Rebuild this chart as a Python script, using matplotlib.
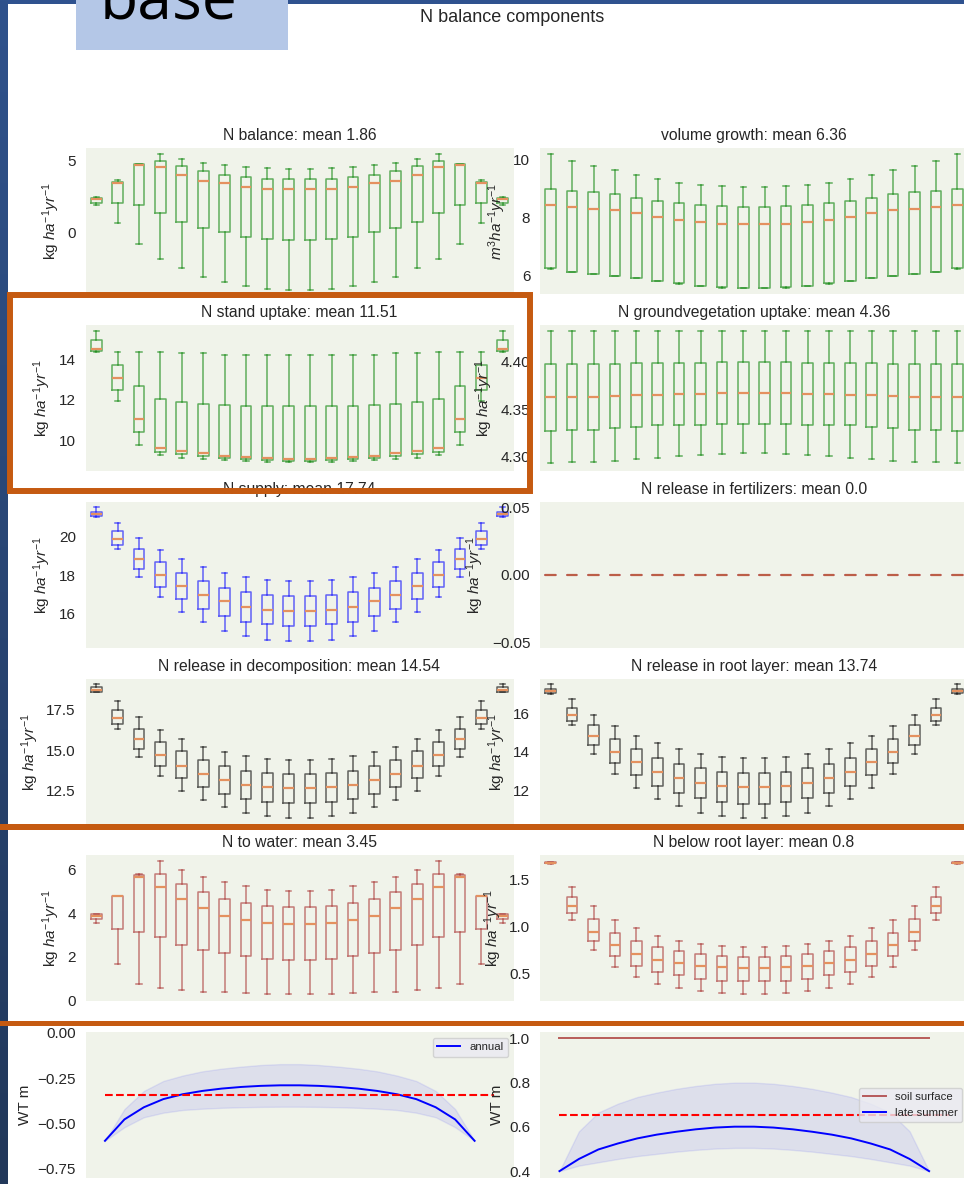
import numpy as np
import matplotlib.pyplot as plt
from matplotlib.patches import Rectangle

plt.rcParams['font.family'] = ['Liberation Sans', 'DejaVu Sans']
plt.rcParams['mathtext.fontset'] = 'custom'
plt.rcParams['mathtext.rm'] = 'Liberation Sans'
plt.rcParams['mathtext.it'] = 'Liberation Sans:italic'
plt.rcParams['mathtext.bf'] = 'Liberation Sans:bold'
plt.rcParams['text.color'] = '#262626'
plt.rcParams['axes.labelcolor'] = '#262626'
plt.rcParams['ytick.color'] = '#262626'

W, H = 964, 1184
BG = '#F0F3EA'
MED = '#E4915F'
ORANGE = '#C55A11'
KG = 'kg $ha^{-1}yr^{-1}$'

# box statistics per panel (20 boxes): upper whisker, q3, median, q1, lower whisker
bal_hi = [2.45, 3.68, 4.78, 5.42, 5.09, 4.82, 4.68, 4.51, 4.45, 4.38, 4.38, 4.45, 4.51, 4.68, 4.82, 5.09, 5.42, 4.78, 3.68, 2.45]
bal_q3 = [2.40, 3.54, 4.75, 4.95, 4.61, 4.24, 4.00, 3.84, 3.70, 3.70, 3.70, 3.70, 3.84, 4.00, 4.24, 4.61, 4.95, 4.75, 3.54, 2.40]
bal_med = [2.33, 3.46, 4.70, 4.51, 4.00, 3.61, 3.42, 3.19, 3.05, 3.05, 3.05, 3.05, 3.19, 3.42, 3.61, 4.00, 4.51, 4.70, 3.46, 2.33]
bal_q1 = [2.09, 2.09, 1.93, 1.35, 0.77, 0.31, 0.05, -0.28, -0.42, -0.49, -0.49, -0.42, -0.28, 0.05, 0.31, 0.77, 1.35, 1.93, 2.09, 2.09]
bal_lo = [1.93, 0.68, -0.79, -1.79, -2.44, -3.00, -3.35, -3.65, -3.84, -3.93, -3.93, -3.84, -3.65, -3.35, -3.00, -2.44, -1.79, -0.79, 0.68, 1.93]

vol_hi = [10.17, 9.94, 9.77, 9.61, 9.46, 9.32, 9.19, 9.11, 9.07, 9.04, 9.04, 9.07, 9.11, 9.19, 9.32, 9.46, 9.61, 9.77, 9.94, 10.17]
vol_q3 = [8.97, 8.90, 8.87, 8.79, 8.67, 8.57, 8.49, 8.42, 8.39, 8.34, 8.34, 8.39, 8.42, 8.49, 8.57, 8.67, 8.79, 8.87, 8.90, 8.97]
vol_med = [8.42, 8.35, 8.28, 8.25, 8.14, 8.02, 7.91, 7.84, 7.77, 7.77, 7.77, 7.77, 7.84, 7.91, 8.02, 8.14, 8.25, 8.28, 8.35, 8.42]
vol_q1 = [6.25, 6.14, 6.07, 6.00, 5.93, 5.82, 5.75, 5.66, 5.61, 5.59, 5.59, 5.61, 5.66, 5.75, 5.82, 5.93, 6.00, 6.07, 6.14, 6.25]
vol_lo = [6.23, 6.12, 6.05, 5.98, 5.91, 5.80, 5.73, 5.64, 5.59, 5.57, 5.57, 5.59, 5.64, 5.73, 5.80, 5.91, 5.98, 6.05, 6.12, 6.23]

upt_hi = [15.40, 14.34, 14.34, 14.34, 14.29, 14.29, 14.22, 14.22, 14.22, 14.22, 14.22, 14.22, 14.22, 14.22, 14.29, 14.29, 14.34, 14.34, 14.34, 15.40]
upt_q3 = [14.94, 13.70, 12.67, 12.01, 11.89, 11.80, 11.75, 11.69, 11.66, 11.66, 11.66, 11.66, 11.69, 11.75, 11.80, 11.89, 12.01, 12.67, 13.70, 14.94]
upt_med = [14.49, 13.04, 11.02, 9.63, 9.47, 9.37, 9.22, 9.17, 9.11, 9.05, 9.05, 9.11, 9.17, 9.22, 9.37, 9.47, 9.63, 11.02, 13.04, 14.49]
upt_q1 = [14.40, 12.46, 10.40, 9.40, 9.32, 9.21, 9.09, 9.04, 9.00, 8.98, 8.98, 9.00, 9.04, 9.09, 9.21, 9.32, 9.40, 10.40, 12.46, 14.40]
upt_lo = [14.34, 11.92, 9.75, 9.24, 9.12, 9.06, 9.02, 8.96, 8.91, 8.90, 8.90, 8.91, 8.96, 9.02, 9.06, 9.12, 9.24, 9.75, 11.92, 14.34]

gv_hi = [4.433, 4.433, 4.433, 4.433, 4.433, 4.433, 4.433, 4.433, 4.433, 4.433, 4.433, 4.433, 4.433, 4.433, 4.433, 4.433, 4.433, 4.433, 4.433, 4.433]
gv_q3 = [4.398, 4.398, 4.398, 4.398, 4.399, 4.399, 4.399, 4.399, 4.400, 4.400, 4.400, 4.400, 4.399, 4.399, 4.399, 4.399, 4.398, 4.398, 4.398, 4.398]
gv_med = [4.363, 4.363, 4.363, 4.364, 4.365, 4.365, 4.366, 4.366, 4.367, 4.367, 4.367, 4.367, 4.366, 4.366, 4.365, 4.365, 4.364, 4.363, 4.363, 4.363]
gv_q1 = [4.327, 4.328, 4.328, 4.330, 4.331, 4.333, 4.334, 4.334, 4.335, 4.335, 4.335, 4.335, 4.334, 4.334, 4.333, 4.331, 4.330, 4.328, 4.328, 4.327]
gv_lo = [4.293, 4.294, 4.294, 4.296, 4.298, 4.299, 4.301, 4.302, 4.303, 4.304, 4.304, 4.303, 4.302, 4.301, 4.299, 4.298, 4.296, 4.294, 4.294, 4.293]

sup_hi = [21.52, 20.72, 19.93, 19.32, 18.84, 18.41, 18.13, 17.91, 17.77, 17.71, 17.71, 17.77, 17.91, 18.13, 18.41, 18.84, 19.32, 19.93, 20.72, 21.52]
sup_q3 = [21.27, 20.31, 19.38, 18.69, 18.13, 17.71, 17.36, 17.15, 16.98, 16.93, 16.93, 16.98, 17.15, 17.36, 17.71, 18.13, 18.69, 19.38, 20.31, 21.27]
sup_med = [21.17, 19.88, 18.84, 18.00, 17.43, 16.98, 16.65, 16.38, 16.22, 16.17, 16.17, 16.22, 16.38, 16.65, 16.98, 17.43, 18.00, 18.84, 19.88, 21.17]
sup_q1 = [21.07, 19.58, 18.34, 17.41, 16.77, 16.26, 15.89, 15.60, 15.47, 15.36, 15.36, 15.47, 15.60, 15.89, 16.26, 16.77, 17.41, 18.34, 19.58, 21.07]
sup_lo = [21.02, 19.38, 17.91, 16.88, 16.10, 15.57, 15.12, 14.88, 14.65, 14.59, 14.59, 14.65, 14.88, 15.12, 15.57, 16.10, 16.88, 17.91, 19.38, 21.02]

fert = [0.0, 0.0, 0.0, 0.0, 0.0, 0.0, 0.0, 0.0, 0.0, 0.0, 0.0, 0.0, 0.0, 0.0, 0.0, 0.0, 0.0, 0.0, 0.0, 0.0]

dec_hi = [19.09, 18.04, 17.07, 16.28, 15.71, 15.24, 14.93, 14.66, 14.49, 14.41, 14.41, 14.49, 14.66, 14.93, 15.24, 15.71, 16.28, 17.07, 18.04, 19.09]
dec_q3 = [18.90, 17.52, 16.33, 15.52, 14.95, 14.43, 14.06, 13.75, 13.61, 13.53, 13.53, 13.61, 13.75, 14.06, 14.43, 14.95, 15.52, 16.33, 17.52, 18.90]
dec_med = [18.73, 16.99, 15.69, 14.72, 14.06, 13.55, 13.18, 12.89, 12.77, 12.67, 12.67, 12.77, 12.89, 13.18, 13.55, 14.06, 14.72, 15.69, 16.99, 18.73]
dec_q1 = [18.63, 16.62, 15.09, 14.06, 13.30, 12.73, 12.31, 12.00, 11.84, 11.74, 11.74, 11.84, 12.00, 12.31, 12.73, 13.30, 14.06, 15.09, 16.62, 18.63]
dec_lo = [18.60, 16.33, 14.60, 13.45, 12.52, 11.93, 11.49, 11.14, 10.96, 10.85, 10.85, 10.96, 11.14, 11.49, 11.93, 12.52, 13.45, 14.60, 16.33, 18.60]

root_hi = [17.48, 16.72, 15.90, 15.31, 14.83, 14.43, 14.12, 13.90, 13.73, 13.67, 13.67, 13.73, 13.90, 14.12, 14.43, 14.83, 15.31, 15.90, 16.72, 17.48]
root_q3 = [17.26, 16.27, 15.36, 14.66, 14.12, 13.67, 13.35, 13.14, 12.95, 12.90, 12.90, 12.95, 13.14, 13.35, 13.67, 14.12, 14.66, 15.36, 16.27, 17.26]
root_med = [17.14, 15.90, 14.81, 14.00, 13.47, 12.97, 12.64, 12.37, 12.21, 12.16, 12.16, 12.21, 12.37, 12.64, 12.97, 13.47, 14.00, 14.81, 15.90, 17.14]
root_q1 = [17.05, 15.60, 14.36, 13.43, 12.80, 12.24, 11.87, 11.59, 11.42, 11.31, 11.31, 11.42, 11.59, 11.87, 12.24, 12.80, 13.43, 14.36, 15.60, 17.05]
root_lo = [17.00, 15.36, 13.88, 12.85, 12.12, 11.56, 11.19, 10.83, 10.68, 10.57, 10.57, 10.68, 10.83, 11.19, 11.56, 12.12, 12.85, 13.88, 15.36, 17.00]

wat_hi = [3.98, 4.80, 5.82, 6.40, 5.97, 5.68, 5.45, 5.24, 5.09, 5.04, 5.04, 5.09, 5.24, 5.45, 5.68, 5.97, 6.40, 5.82, 4.80, 3.98]
wat_q3 = [3.95, 4.80, 5.76, 5.83, 5.35, 4.97, 4.68, 4.48, 4.33, 4.28, 4.28, 4.33, 4.48, 4.68, 4.97, 5.35, 5.83, 5.76, 4.80, 3.95]
wat_med = [3.87, 4.78, 5.67, 5.19, 4.68, 4.24, 3.90, 3.72, 3.57, 3.51, 3.51, 3.57, 3.72, 3.90, 4.24, 4.68, 5.19, 5.67, 4.78, 3.87]
wat_q1 = [3.75, 3.28, 3.16, 2.90, 2.54, 2.30, 2.17, 2.04, 1.93, 1.88, 1.88, 1.93, 2.04, 2.17, 2.30, 2.54, 2.90, 3.16, 3.28, 3.75]
wat_lo = [3.55, 1.69, 0.77, 0.58, 0.49, 0.40, 0.40, 0.35, 0.30, 0.30, 0.30, 0.30, 0.35, 0.40, 0.40, 0.49, 0.58, 0.77, 1.69, 3.55]

bel_hi = [1.685, 1.419, 1.211, 1.070, 0.979, 0.901, 0.845, 0.810, 0.789, 0.778, 0.778, 0.789, 0.810, 0.845, 0.901, 0.979, 1.070, 1.211, 1.419, 1.685]
bel_q3 = [1.680, 1.310, 1.081, 0.929, 0.845, 0.778, 0.733, 0.701, 0.680, 0.669, 0.669, 0.680, 0.701, 0.733, 0.778, 0.845, 0.929, 1.081, 1.310, 1.680]
bel_med = [1.675, 1.215, 0.940, 0.796, 0.704, 0.645, 0.609, 0.577, 0.564, 0.556, 0.556, 0.564, 0.577, 0.609, 0.645, 0.704, 0.796, 0.940, 1.215, 1.675]
bel_q1 = [1.670, 1.141, 0.842, 0.680, 0.574, 0.518, 0.479, 0.444, 0.419, 0.416, 0.416, 0.419, 0.444, 0.479, 0.518, 0.574, 0.680, 0.842, 1.141, 1.670]
bel_lo = [1.665, 1.070, 0.746, 0.567, 0.455, 0.387, 0.345, 0.307, 0.289, 0.278, 0.278, 0.289, 0.307, 0.345, 0.387, 0.455, 0.567, 0.746, 1.070, 1.665]

# water table: annual and late summer mean with spread
wt_x = [0, 1, 2, 3, 4, 5, 6, 7, 8, 9, 10, 11, 12, 13, 14, 15, 16, 17, 18, 19]
ann_mean = [-0.595, -0.477, -0.410, -0.365, -0.338, -0.320, -0.307, -0.298, -0.292, -0.289, -0.289, -0.292, -0.298, -0.307, -0.320, -0.338, -0.365, -0.410, -0.477, -0.595]
ann_hi = [-0.595, -0.420, -0.320, -0.265, -0.235, -0.212, -0.197, -0.186, -0.177, -0.172, -0.172, -0.177, -0.186, -0.197, -0.212, -0.235, -0.265, -0.320, -0.420, -0.595]
ann_lo = [-0.595, -0.520, -0.465, -0.440, -0.425, -0.418, -0.413, -0.410, -0.408, -0.407, -0.407, -0.408, -0.410, -0.413, -0.418, -0.425, -0.440, -0.465, -0.520, -0.595]
ann_ref = -0.345
ls_mean = [0.400, 0.455, 0.498, 0.525, 0.548, 0.565, 0.578, 0.589, 0.597, 0.601, 0.601, 0.597, 0.589, 0.578, 0.565, 0.548, 0.525, 0.498, 0.455, 0.400]
ls_hi = [0.400, 0.580, 0.665, 0.705, 0.735, 0.755, 0.772, 0.785, 0.795, 0.800, 0.800, 0.795, 0.785, 0.772, 0.755, 0.735, 0.705, 0.665, 0.580, 0.400]
ls_lo = [0.400, 0.425, 0.440, 0.455, 0.468, 0.478, 0.488, 0.496, 0.502, 0.505, 0.505, 0.502, 0.496, 0.488, 0.478, 0.468, 0.455, 0.440, 0.425, 0.400]
ls_ref = 0.655
soil_surface = 1.0

fig = plt.figure(figsize=(W / 100, H / 100), dpi=100)

ROW_TOP = [148, 325, 502, 679, 855, 1032]
COL_LEFT = [85.5, 540]


def panel(col, row):
    ax = fig.add_axes([COL_LEFT[col] / W, 1 - (ROW_TOP[row] + 146) / H, 428 / W, 146 / H])
    ax.set_facecolor(BG)
    for s in ax.spines.values():
        s.set_visible(False)
    ax.tick_params(axis='y', length=0, pad=7, labelsize=11)
    return ax


def boxes(ax, hi, q3, med, q1, lo, color, title, ylabel, ylim, yticks, med_color=MED):
    stats = [dict(whishi=a, q3=b, med=c, q1=d, whislo=e) for a, b, c, d, e in zip(hi, q3, med, q1, lo)]
    lp = dict(color=color, alpha=0.6, lw=1.1)
    ax.bxp(stats, positions=range(1, 21), widths=0.5, showfliers=False,
           boxprops=lp, whiskerprops=lp, capprops=lp,
           medianprops=dict(color=med_color, lw=1.6))
    ax.set_xlim(0.5, 20.5)
    ax.set_xticks([])
    ax.set_ylim(*ylim)
    ax.set_yticks(yticks)
    ax.set_title(title, fontsize=11.3)
    ax.set_ylabel(ylabel, fontsize=11)


boxes(panel(0, 0), bal_hi, bal_q3, bal_med, bal_q1, bal_lo, 'green',
      'N balance: mean 1.86', KG, (-4.2, 5.85), [0, 5])
boxes(panel(1, 0), vol_hi, vol_q3, vol_med, vol_q1, vol_lo, 'green',
      'volume growth: mean 6.36', '$m^3ha^{-1}yr^{-1}$', (5.37, 10.38), [6, 8, 10])
boxes(panel(0, 1), upt_hi, upt_q3, upt_med, upt_q1, upt_lo, 'green',
      'N stand uptake: mean 11.51', KG, (8.47, 15.68), [10, 12, 14])
boxes(panel(1, 1), gv_hi, gv_q3, gv_med, gv_q1, gv_lo, 'green',
      'N groundvegetation uptake: mean 4.36', KG, (4.285, 4.439), [4.30, 4.35, 4.40])
boxes(panel(0, 2), sup_hi, sup_q3, sup_med, sup_q1, sup_lo, 'blue',
      'N supply: mean 17.74', KG, (14.24, 21.79), [16, 18, 20])
boxes(panel(1, 2), fert, fert, fert, fert, fert, 'brown',
      'N release in fertilizers: mean 0.0', KG, (-0.054, 0.054), [-0.05, 0.0, 0.05],
      med_color='#BC5E48')
boxes(panel(0, 3), dec_hi, dec_q3, dec_med, dec_q1, dec_lo, 'black',
      'N release in decomposition: mean 14.54', KG, (10.4, 19.41), [12.5, 15.0, 17.5])
boxes(panel(1, 3), root_hi, root_q3, root_med, root_q1, root_lo, 'black',
      'N release in root layer: mean 13.74', KG, (10.21, 17.76), [12, 14, 16])
boxes(panel(0, 4), wat_hi, wat_q3, wat_med, wat_q1, wat_lo, 'brown',
      'N to water: mean 3.45', KG, (-0.02, 6.68), [0, 2, 4, 6])
boxes(panel(1, 4), bel_hi, bel_q3, bel_med, bel_q1, bel_lo, 'brown',
      'N below root layer: mean 0.8', KG, (0.205, 1.757), [0.5, 1.0, 1.5])

leg_kw = dict(fontsize=8.2, facecolor='#EAEAF2', edgecolor='0.8', framealpha=0.8)

ax = panel(0, 5)
ax.fill_between(wt_x, ann_lo, ann_hi, color='blue', alpha=0.08)
ax.plot(wt_x, ann_mean, color='blue', lw=1.4, label='annual')
ax.hlines(ann_ref, 0, 20, colors='red', linestyles='--', lw=1.5)
ax.set_xlim(-1, 21)
ax.set_xticks([])
ax.set_ylim(-0.80, 0.005)
ax.set_yticks([-0.75, -0.50, -0.25, 0.0])
ax.set_ylabel('WT m', fontsize=11)
ax.legend(loc='upper right', **leg_kw)

ax = panel(1, 5)
ax.plot([wt_x[0], wt_x[-1]], [soil_surface, soil_surface], color='brown', alpha=0.75, lw=1.4, label='soil surface')
ax.fill_between(wt_x, ls_lo, ls_hi, color='blue', alpha=0.08)
ax.plot(wt_x, ls_mean, color='blue', lw=1.4, label='late summer')
ax.hlines(ls_ref, 0, 20, colors='red', linestyles='--', lw=1.5)
ax.set_xlim(-1, 21)
ax.set_xticks([])
ax.set_ylim(0.369, 1.029)
ax.set_yticks([0.4, 0.6, 0.8, 1.0])
ax.set_ylabel('WT m', fontsize=11)
ax.legend(loc='center right', **leg_kw)

fig.text(512 / W, 1 - 18 / H, 'N balance components', ha='center', va='center', fontsize=13)


def px_rect(x, y, w, h, **kw):
    r = Rectangle((x / W, 1 - (y + h) / H), w / W, h / H, transform=fig.transFigure, **kw)
    fig.add_artist(r)
    return r


# slide frame: dark blue edge, label box and orange highlight marks
shade = np.linspace(0, 1, H)[:, None, None]
top_c = np.array([47, 82, 140]) / 255
bot_c = np.array([34, 56, 90]) / 255
edge = np.repeat(top_c + (bot_c - top_c) * shade, 8, axis=1)
fig.figimage(edge, xo=0, yo=0, origin='upper', zorder=5)
px_rect(0, 0, W, 4, color='#2F528F', lw=0, zorder=5)
px_rect(76, 0, 212, 50, color='#B4C7E7', lw=0, zorder=6)
fig.text(100 / W, 1 - 20 / H, 'base', family='Open Sans', fontsize=45,
         ha='left', va='baseline', color='black', zorder=7)

px_rect(10, 295, 520, 196, fill=False, edgecolor=ORANGE, lw=4.3, zorder=8)
px_rect(0, 823.5, W, 6, color=ORANGE, lw=0, zorder=8)
px_rect(0, 1020.5, W, 5.5, color=ORANGE, lw=0, zorder=8)

fig.savefig('out.png', dpi=100)
